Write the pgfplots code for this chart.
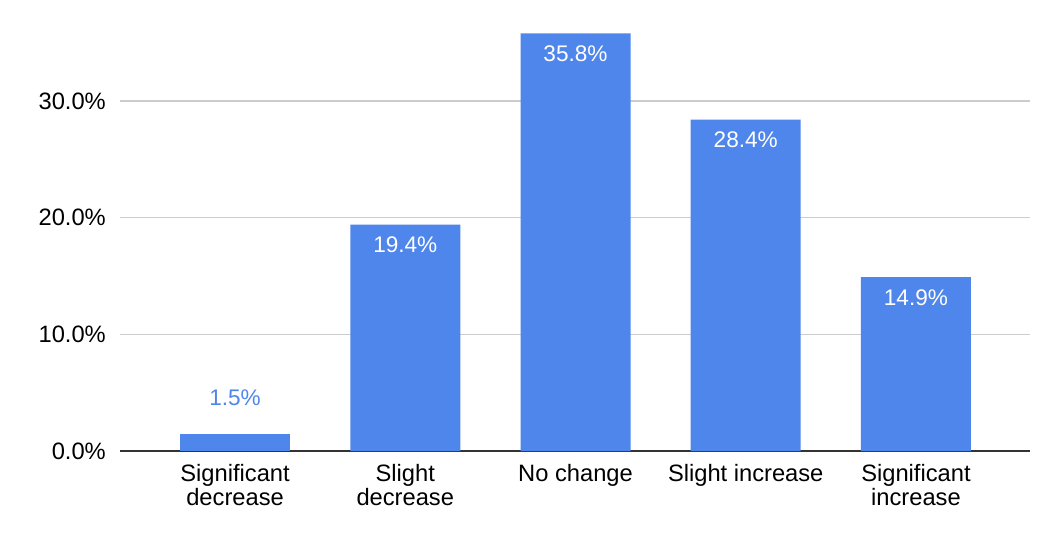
\documentclass[border=0pt]{standalone}
\usepackage{pgfplots}
\pgfplotsset{compat=1.18}
\usepackage{fontspec}
\setmainfont{Liberation Sans}
\definecolor{barblue}{RGB}{79,134,236}
\definecolor{gridgray}{RGB}{204,204,204}
\definecolor{axisdark}{RGB}{51,51,51}
\begin{document}
\begin{tikzpicture}
\path[use as bounding box] (-120pt,-95pt) rectangle (942pt,451pt);
\begin{axis}[
  at={(0pt,0pt)}, anchor=south west,
  scale only axis, width=910pt, height=420pt,
  xmin=-0.676, xmax=4.67, ymin=0, ymax=36,
  axis lines=left,
  axis line style={-},
  x axis line style={axisdark, line width=2pt},
  y axis line style={draw=none},
  ybar,
  ymajorgrids, grid style={gridgray, line width=1.6pt},
  major tick length=0pt,
  ytick={0,10,20,30},
  yticklabels={0.0\%,10.0\%,20.0\%,30.0\%},
  xtick={0,1,2,3,4},
  xticklabels={{Significant\\decrease},{Slight\\decrease},{No change},{Slight increase},{Significant\\increase}},
  tick label style={font=\fontsize{23.7}{24.5}\selectfont},
  yticklabel style={anchor=east, inner sep=0pt, xshift=-14pt},
  xticklabel style={align=center, anchor=north, inner sep=0pt, yshift=-13pt},
  point meta=explicit symbolic,
  nodes near coords,
]
\addplot[fill=barblue, draw=none, bar width=110pt, bar shift=0pt,
  every node near coord/.append style={anchor=north, inner sep=0pt, yshift=-12pt, text=white, font=\fontsize{22.6}{24}\selectfont}]
  coordinates {(1,19.4) [19.4\%] (2,35.8) [35.8\%] (3,28.4) [28.4\%] (4,14.9) [14.9\%]};
\addplot[fill=barblue, draw=none, bar width=110pt, bar shift=0pt,
  every node near coord/.append style={anchor=south, inner sep=0pt, yshift=28pt, text=barblue, font=\fontsize{22.6}{24}\selectfont}]
  coordinates {(0,1.5) [1.5\%]};
\end{axis}
\end{tikzpicture}
\end{document}
